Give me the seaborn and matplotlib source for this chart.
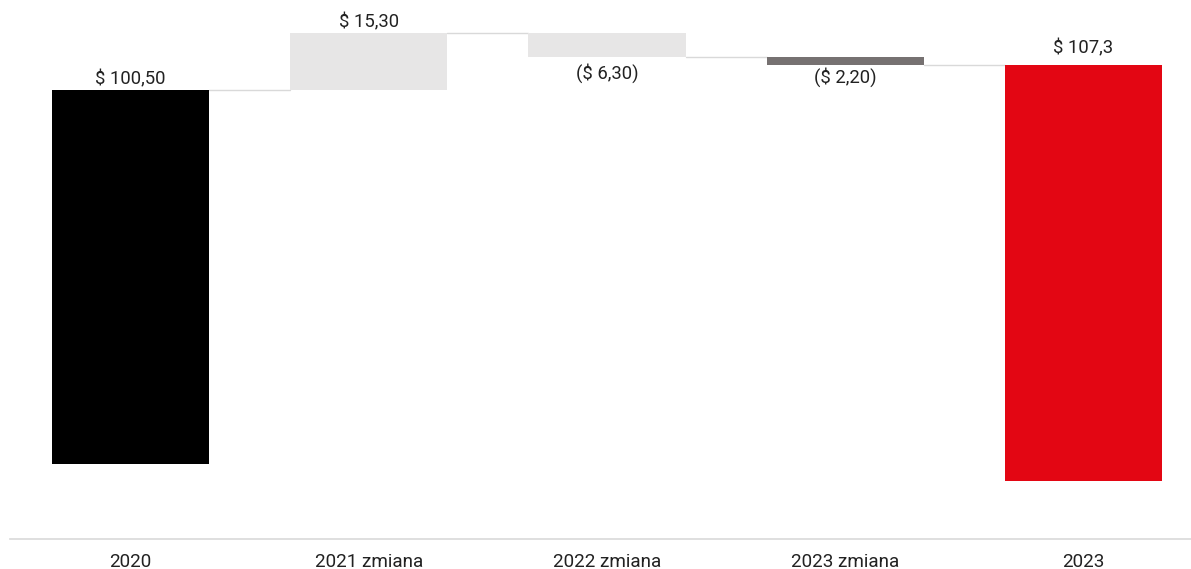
import matplotlib
matplotlib.use("Agg")
import matplotlib.pyplot as plt
import seaborn as sns
import numpy as np

categories = ["2020", "2021 zmiana", "2022 zmiana", "2023 zmiana", "2023"]
start_value = 100.5
changes = [15.3, -6.3, -2.2]
end_value = 107.3
end_base = -4.6
labels = ["$ 100,50", "$ 15,30", "($ 6,30)", "($ 2,20)", "$ 107,3"]
colors = ["#000000", "#e7e6e6", "#e7e6e6", "#767171", "#e30613"]

sns.set_theme(style="white")
plt.rcParams["font.family"] = ["Roboto", "DejaVu Sans"]

# waterfall geometry from data
cum = [start_value]
for c in changes:
    cum.append(cum[-1] + c)
bottoms = [0.0] + cum[:-1] + [end_base]
heights = [start_value] + changes + [end_value - end_base]
tops = [b + h for b, h in zip(bottoms, heights)]

fig = plt.figure(figsize=(11.91, 5.69), dpi=100)
ax = fig.add_axes([10 / 1191, 30 / 569, 1 - 10 / 1191, 539 / 569])

sns.barplot(x=categories, y=heights, hue=categories, palette=colors,
            width=0.66, legend=False, ax=ax, saturation=1)
for patch, b in zip(ax.patches, bottoms):
    patch.set_y(b)
    patch.set_edgecolor("none")

w = 0.66
# connectors
levels = cum
for i in range(len(categories) - 1):
    lvl = levels[i]
    ax.plot([i + w / 2, i + 1 - w / 2], [lvl, lvl], color="#d9d9d9", lw=1.0, zorder=0)

# value labels
fs = 13.3
below_offsets = {2: -4.5, 3: -1.5}
above_offsets = {0: 1.5, 1: 1.5, 4: 5.0}
for i, lab in enumerate(labels):
    top = max(bottoms[i], tops[i])
    low = min(bottoms[i], tops[i])
    if i in below_offsets:
        ax.annotate(lab, (i, low), xytext=(0, below_offsets[i]), textcoords="offset points",
                    ha="center", va="top", fontsize=fs, color="#222222")
    else:
        ax.annotate(lab, (i, top), xytext=(0, above_offsets[i]), textcoords="offset points",
                    ha="center", va="bottom", fontsize=fs, color="#222222")

ax.set_xlim(-0.506, 4.451)
ax.set_ylim(-20.2, 124.7)
ax.set_yticks([])
ax.set_ylabel("")
for s in ["top", "right", "left"]:
    ax.spines[s].set_visible(False)
ax.spines["bottom"].set_color("#d9d9d9")
ax.spines["bottom"].set_linewidth(1.2)
ax.tick_params(axis="x", length=0, pad=10, labelsize=13.6, labelcolor="#222222")

fig.savefig("out.png", dpi=100, facecolor="white")
